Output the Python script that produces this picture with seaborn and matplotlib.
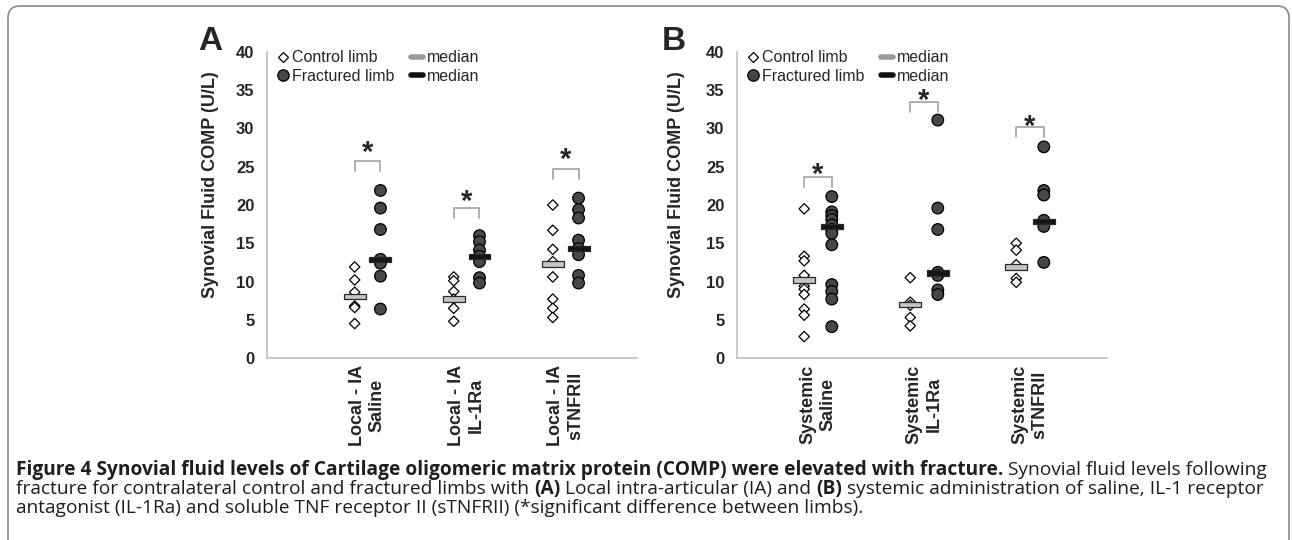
import numpy as np
import pandas as pd
import matplotlib
matplotlib.use("Agg")
import matplotlib.pyplot as plt
import seaborn as sns
from matplotlib.lines import Line2D
from matplotlib.patches import FancyBboxPatch
from matplotlib.transforms import IdentityTransform

# ------------------------------------------------------------------------
# data (U/L)
# ------------------------------------------------------------------------

groups_a = ["Local - IA\nSaline", "Local - IA\nIL-1Ra", "Local - IA\nsTNFRII"]
control_a = [
    [11.9, 10.2, 8.6, 6.8, 6.6, 4.5],
    [10.6, 10.1, 8.7, 7.7, 6.5, 4.8],
    [20.0, 16.7, 14.2, 12.6, 10.6, 7.7, 6.5, 5.3],
]
fractured_a = [
    [21.9, 19.6, 16.8, 12.9, 12.4, 10.7, 6.4],
    [16.0, 15.2, 14.1, 13.3, 12.6, 10.5, 9.8],
    [20.9, 19.4, 18.3, 15.4, 14.3, 13.5, 10.8, 9.8],
]
median_control_a = [8.0, 7.7, 12.3]
median_fractured_a = [12.9, 13.3, 14.3]
bracket_a = [25.7, 19.6, 24.7]
star_a = [27.5, 21.2, 26.7]

groups_b = ["Systemic\nSaline", "Systemic\nIL-1Ra", "Systemic\nsTNFRII"]
control_b = [
    [19.5, 13.3, 12.7, 10.8, 9.4, 9.0, 8.3, 6.4, 5.6, 2.8],
    [10.5, 7.3, 6.9, 5.3, 4.2],
    [15.0, 14.1, 12.2, 10.4, 9.9],
]
fractured_b = [
    [21.1, 19.1, 18.6, 18.1, 17.4, 16.8, 16.3, 14.8, 9.6, 8.7, 7.7, 4.1],
    [31.1, 19.6, 16.8, 11.2, 10.8, 8.9, 8.3],
    [27.6, 21.9, 21.3, 18.0, 17.2, 12.5],
]
median_control_b = [10.2, 7.0, 11.9]
median_fractured_b = [17.2, 11.1, 17.8]
bracket_b = [23.7, 33.4, 30.2]
star_b = [24.7, 34.4, 31.0]

caption_lines = [
    [("Figure 4 Synovial fluid levels of Cartilage oligomeric matrix protein (COMP) "
      "were elevated with fracture.", True),
     ("Synovial fluid levels following", False)],
    [("fracture for contralateral control and fractured limbs with", False),
     ("(A)", True), ("Local intra-articular (IA) and", False), ("(B)", True),
     ("systemic administration of saline, IL-1 receptor", False)],
    [("antagonist (IL-1Ra) and soluble TNF receptor II (sTNFRII) "
      "(*significant difference between limbs).", False)],
]

CTRL_OFF, FRAC_OFF = -0.13, 0.13
FILL = {"Control": "white", "Fractured": "#474747"}
MED_FILL = {"Control": "#c4c4c4", "Fractured": "#151515"}
AXIS_GRAY = "#bfbfbf"
MED_MARKER = [(-1, -0.24), (1, -0.24), (1, 0.24), (-1, 0.24), (-1, -0.24)]

sns.set_style("white")
plt.rcParams["font.family"] = ["Liberation Sans", "DejaVu Sans"]


def long_table(control, fractured):
    rows = []
    for g, (c_vals, f_vals) in enumerate(zip(control, fractured)):
        rows += [(g + CTRL_OFF, "Control", v) for v in c_vals]
        rows += [(g + FRAC_OFF, "Fractured", v) for v in f_vals]
    return pd.DataFrame(rows, columns=["pos", "limb", "value"])


def draw_panel(ax, groups, control, fractured, med_c, med_f, brackets, stars, xlim):
    pts = long_table(control, fractured)
    meds = long_table([[m] for m in med_c], [[m] for m in med_f])

    sns.scatterplot(data=pts, x="pos", y="value", hue="limb", style="limb",
                    size="limb", palette=FILL,
                    markers={"Control": "D", "Fractured": "o"},
                    sizes={"Control": 28, "Fractured": 70},
                    edgecolor="black", linewidth=0.9, legend=False, ax=ax, zorder=3)
    sns.scatterplot(data=meds, x="pos", y="value", hue="limb", palette=MED_FILL,
                    marker=MED_MARKER, s=250, edgecolor="#2a2a2a", linewidth=0.9,
                    legend=False, ax=ax, zorder=4)

    # significance brackets; the asterisk glyph sits ~1.8 units above its baseline
    for g, (top, star) in enumerate(zip(brackets, stars)):
        x0, x1 = g + CTRL_OFF, g + FRAC_OFF
        ax.plot([x0, x0, x1, x1], [top - 1.3, top, top, top - 1.3],
                color="#a8a8a8", lw=1.3, zorder=2)
        ax.text(g, star - 1.8, "*", ha="center", va="baseline",
                fontsize=21, fontweight="bold")

    ax.set_xlim(*xlim)
    ax.set_ylim(0, 40)
    ax.set_yticks(range(0, 41, 5))
    ax.set_xticks(range(len(groups)))
    ax.set_xticklabels(groups, rotation=90, fontsize=13, fontweight="bold",
                       va="top", ha="center", multialignment="center")
    for lab in ax.get_yticklabels():
        lab.set_fontweight("bold")
        lab.set_fontsize(12)
    ax.tick_params(axis="x", length=0, pad=5)
    ax.tick_params(axis="y", length=5, width=1, color=AXIS_GRAY, pad=4)
    ax.set_xlabel("")
    ax.set_ylabel("Synovial Fluid COMP (U/L)", fontsize=13, fontweight="bold")
    for side in ["top", "right"]:
        ax.spines[side].set_visible(False)
    for side in ["left", "bottom"]:
        ax.spines[side].set_color(AXIS_GRAY)
        ax.spines[side].set_linewidth(1.2)

    handles = [
        Line2D([], [], marker="D", ms=5.3, mfc="white", mec="black", mew=0.9,
               ls="none", label="Control limb"),
        Line2D([], [], marker="o", ms=8.2, mfc=FILL["Fractured"], mec="black",
               mew=0.9, ls="none", label="Fractured limb"),
        Line2D([0, 1], [0, 0], color="#9a9a9a", lw=4, label="median"),
        Line2D([0, 1], [0, 0], color="#111111", lw=4, label="median"),
    ]
    ax.legend(handles=handles, ncol=2, loc="upper left", bbox_to_anchor=(0.025, 1.005),
              frameon=False, fontsize=11.5, handlelength=0.8, handletextpad=0.2,
              columnspacing=1.0, labelspacing=0.22, borderaxespad=0, borderpad=0)


W, H = 1292, 540
fig = plt.figure(figsize=(W / 100, H / 100), dpi=100)

ax_a = fig.add_axes([267 / W, (H - 358) / H, 370 / W, 306 / H])
ax_b = fig.add_axes([737 / W, (H - 358) / H, 370 / W, 306 / H])

draw_panel(ax_a, groups_a, control_a, fractured_a, median_control_a,
           median_fractured_a, bracket_a, star_a, (-1.015, 2.72))
draw_panel(ax_b, groups_b, control_b, fractured_b, median_control_b,
           median_fractured_b, bracket_b, star_b, (-0.764, 2.726))
ax_a.yaxis.set_label_coords(-(267 - 219) / 370, 0.565)
ax_b.yaxis.set_label_coords(-(737 - 685) / 370, 0.565)

fig.text(210 / W, (H - 42) / H, "A", fontsize=24, fontweight="bold",
         ha="center", va="center")
fig.text(674 / W, (H - 42) / H, "B", fontsize=24, fontweight="bold",
         ha="center", va="center")

# caption, laid out run by run so bold and regular can share a line
renderer = fig.canvas.get_renderer()
cap_font = ["Open Sans", "DejaVu Sans"]
cap_left, cap_right = 16, 1264


def text_width(txt, size, bold=False):
    t = fig.text(0, 0, txt, fontsize=size, family=cap_font,
                 fontweight="bold" if bold else "normal")
    w = t.get_window_extent(renderer).width
    t.remove()
    return w


def line_width(line, size):
    sp = text_width("x x", size) - text_width("xx", size)
    return sum(text_width(t, size, b) for t, b in line) + sp * (len(line) - 1)


cap_size = 11 * (cap_right - cap_left) / line_width(caption_lines[0], 11)
space_w = text_width("x x", cap_size) - text_width("xx", cap_size)

baselines = [475, 494, 513]
for line, base in zip(caption_lines, baselines):
    x = cap_left
    for txt, bold in line:
        t = fig.text(x / W, (H - base) / H, txt, fontsize=cap_size, family=cap_font,
                     fontweight="bold" if bold else "normal", va="baseline",
                     ha="left", color="#1e1e1e")
        x += t.get_window_extent(renderer).width + space_w

border = FancyBboxPatch((8, -30), W - 11, H - 6 + 30,
                        boxstyle="round,pad=0,rounding_size=12",
                        transform=IdentityTransform(), fill=False,
                        ec="#8a8a8a", lw=1.2)
fig.add_artist(border)

fig.savefig("out.png", dpi=100)
